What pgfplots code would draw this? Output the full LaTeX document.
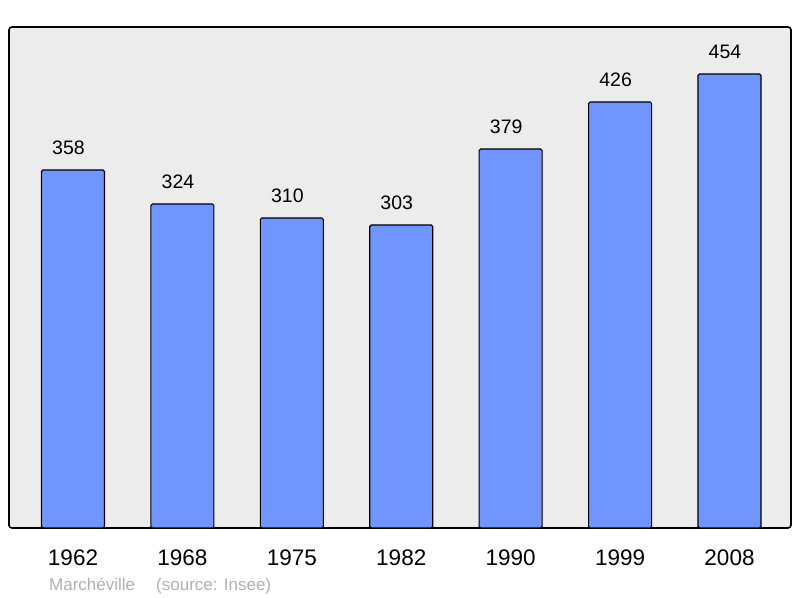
\documentclass[border=0pt]{standalone}
\usepackage{fontspec}
\setmainfont{Liberation Sans}
\usepackage{pgfplots}
\pgfplotsset{compat=1.18}

\definecolor{barblue}{HTML}{7095FF}
\definecolor{bggray}{HTML}{ECECEC}
\definecolor{footgray}{HTML}{B0B0B0}

\begin{document}
\begin{tikzpicture}
\useasboundingbox (0,0) rectangle (800bp,598bp);
\begin{axis}[
  at={(9bp,70bp)}, anchor=south west,
  scale only axis, width=782bp, height=501bp,
  xmin=-0.585, xmax=6.562, ymin=0, ymax=501,
  axis background/.style={fill=bggray, rounded corners=3bp},
  axis line style={line width=1.6bp, rounded corners=3bp},
  ytick=\empty,
  xtick={0,1,2,3,4,5,6},
  xticklabels={1962,1968,1975,1982,1990,1999,2008},
  major tick length=0pt,
  xticklabel style={anchor=base, yshift=-37bp, font=\fontsize{22.5bp}{26bp}\selectfont},
  ybar, bar width=63bp,
  nodes near coords,
  nodes near coords style={anchor=base, yshift=15bp, xshift=-4.5bp, font=\fontsize{19.5bp}{23bp}\selectfont},
  /pgf/number format/assume math mode=true,
  clip=false,
]
\addplot[fill=barblue, draw=black, line width=1.1bp, rounded corners=1.5bp] coordinates {
  (0,358) (1,324) (2,310) (3,303) (4,379) (5,426) (6,454)
};
\end{axis}
\node[anchor=base west, inner sep=0pt, text=footgray, font=\fontsize{17bp}{20bp}\selectfont] at (49bp,8bp) {Marchéville};
\node[anchor=base west, inner sep=0pt, text=footgray, font=\fontsize{17bp}{20bp}\selectfont] at (156bp,8bp) {(source: Insee)};
\end{tikzpicture}
\end{document}
